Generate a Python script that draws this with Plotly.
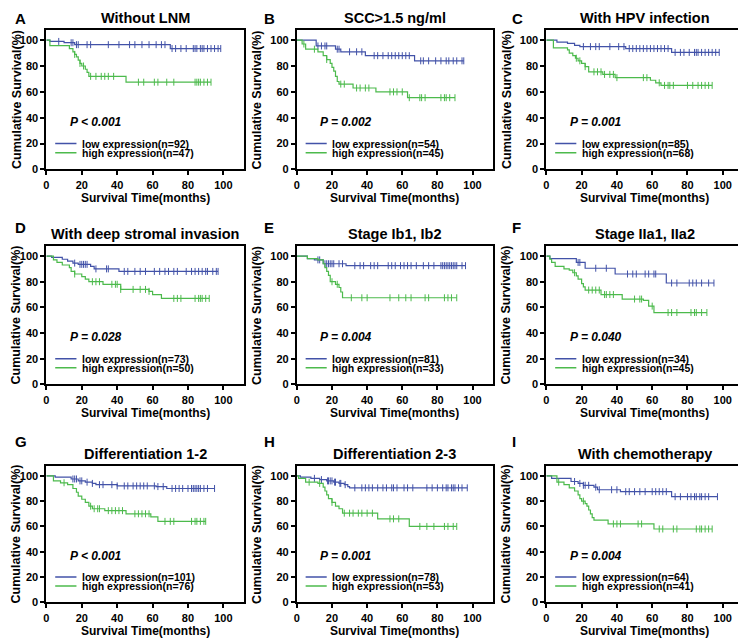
import numpy as np
import plotly.graph_objs as go

# panel labels and annotations
letters = ['A', 'B', 'C', 'D', 'E', 'F', 'G', 'H', 'I']
titles = ['Without LNM', 'SCC>1.5 ng/ml', 'With HPV infection',
          'With deep stromal invasion', 'Stage Ib1, Ib2', 'Stage IIa1, IIa2',
          'Differentiation 1-2', 'Differentiation 2-3', 'With chemotherapy']
p_texts = ['P < 0.001', 'P = 0.002', 'P = 0.001', 'P = 0.028', 'P = 0.004',
           'P = 0.040', 'P < 0.001', 'P = 0.001', 'P = 0.004']
n_low = [92, 54, 85, 73, 81, 34, 101, 78, 64]
n_high = [47, 45, 68, 50, 33, 45, 76, 53, 41]

x_ticks = [0, 20, 40, 60, 80, 100]
y_ticks = [0, 20, 40, 60, 80, 100]

# event times (months), survival after each event (%), censored times
a_low_t = [2, 10, 16, 70]
a_low_s = [99, 98, 96.5, 93.5]
a_low_c = [7, 14, 15, 17, 18, 23, 25, 35, 41, 47, 50, 54, 58, 62, 65, 67, 71, 73, 76,
           79, 83, 84, 85, 87, 88, 89, 91, 93, 95, 97, 98.5]
a_high_t = [2, 13, 15, 16, 17, 18, 19, 20, 22, 23, 24, 45]
a_high_s = [95.7, 93.5, 91, 89, 87, 84.5, 82, 80, 77.5, 75, 72, 67.5]
a_high_c = [16, 19, 21, 25, 28, 31, 33, 35, 38, 52, 55, 61, 63, 68, 72, 84, 85, 86,
            87, 89, 91, 93]

b_low_t = [11, 22, 25, 39, 67]
b_low_s = [95.5, 93, 91, 88, 84]
b_low_c = [12, 14, 16, 17, 23, 24, 30, 34, 37, 44, 46, 49, 52, 54, 56, 58, 60, 62, 64,
           70.5, 72, 75, 79, 82, 85, 86.5, 89, 91, 94, 95]
b_high_t = [3, 5, 12, 15, 17, 19, 20, 21, 22, 23, 24, 32, 45, 63]
b_high_s = [97, 93, 91, 88, 85, 82, 79, 76, 72, 68, 66, 63, 60, 55.5]
b_high_c = [4, 10, 17, 25, 27, 34, 36, 39, 41, 53, 55, 57, 60, 64, 70, 71, 73, 82, 84,
            85, 87, 90]

c_low_t = [6, 12, 16, 19, 45, 71]
c_low_s = [98.5, 97.5, 96, 95, 93.5, 90.5]
c_low_c = [21, 25, 28, 30, 36, 41, 44, 47, 49, 51, 53, 55, 57, 59, 61, 63, 65, 67, 69,
           73, 76, 78, 81, 84, 85, 86, 88, 90, 92, 94, 96, 98]
c_high_t = [4, 12, 13, 15, 16.5, 18, 20, 22, 24, 32, 39, 59, 62, 65]
c_high_s = [94, 92.5, 90, 88, 86, 84, 82, 79.5, 75.5, 73.5, 71, 69, 67, 65]
c_high_c = [17, 19, 22, 27, 29, 31, 33, 36, 38, 40, 55, 57, 64, 67, 69, 70, 72, 80,
            83, 86, 88, 90, 92, 94]

d_low_t = [3, 9, 12, 15, 18, 25, 27, 41]
d_low_s = [99, 97.5, 96, 94.5, 93.5, 92, 90, 88]
d_low_c = [16, 19, 20, 21, 22, 23, 28, 34, 35, 44, 46, 50, 53, 56, 61, 64, 67, 69, 72,
           74, 79, 82, 84, 86, 88, 90, 91, 94, 96, 97]
d_high_t = [4, 6, 9, 13, 14, 16, 20, 22, 24, 32, 42, 58, 60, 65]
d_high_s = [97, 95, 93, 91, 88, 86, 84, 82, 80, 78, 74, 72.5, 70, 67]
d_high_c = [16, 26, 28, 30, 37, 39, 40, 42, 49, 53, 56, 58, 72, 74, 76, 84, 86, 87,
            88, 90, 92]

e_low_t = [6, 10, 15, 28]
e_low_s = [98, 97, 94, 92.5]
e_low_c = [12, 13, 16, 17, 18, 19, 20, 21, 24, 26, 33, 36, 38, 42, 44, 46, 52, 54, 56,
           59, 61, 63, 65, 68, 72, 75, 78, 82, 83, 84, 85, 86, 87, 88, 89, 90, 91, 94, 96]
e_high_t = [6, 12, 15, 16, 17, 18, 19, 22, 24, 25, 26]
e_high_s = [98, 97, 94, 91, 88, 85, 80, 78, 75.5, 72, 67.5]
e_high_c = [20, 23, 31, 37, 40, 53, 58, 62, 65, 73, 75, 84, 86, 88, 91]

f_low_t = [2, 17, 22, 39, 68]
f_low_s = [98, 95, 90.5, 86, 79]
f_low_c = [18, 19, 28, 34, 46, 49, 51, 56, 58, 61, 62, 71, 74, 81, 83, 85, 88, 92, 95]
f_high_t = [2, 3, 5, 10, 13, 15, 17, 18, 20, 21, 22, 31, 43, 55, 58, 61]
f_high_s = [97.5, 95, 92, 90, 89, 87, 84.5, 82, 78.5, 76, 73.5, 70, 66.5, 65.5, 61, 56]
f_high_c = [16, 24, 26, 28, 30, 33, 34, 36, 38, 50, 53, 54, 60, 69, 71, 74, 82, 84,
            85, 88, 91]

g_low_t = [5, 14, 18, 22, 26, 28, 40, 62, 68]
g_low_s = [99, 97.5, 96, 95, 94, 93, 92, 91.5, 90]
g_low_c = [15, 16, 17, 19, 20, 23, 26, 30, 32, 37, 40, 44, 46, 49, 51, 53, 55, 57, 61,
           63, 66, 71, 73, 75, 77, 80, 82, 83, 84, 85, 86, 87, 89, 91, 95]
g_high_t = [4, 8, 12, 15, 17, 18, 20, 22, 24, 26, 33, 45, 59, 63]
g_high_s = [96, 94.5, 93, 90, 87, 84, 81.5, 79, 76, 74, 72.5, 70, 67.5, 64]
g_high_c = [10, 25, 27, 29, 30, 35, 37, 39, 41, 43, 50, 52, 54, 56, 58, 67, 70, 72,
            82, 84, 85, 87, 89, 90]

h_low_t = [2, 8, 13, 17, 21, 24, 27, 29, 30]
h_low_s = [99, 98, 97, 96, 95, 94, 93, 91.5, 90.5]
h_low_c = [10, 14, 17.5, 18, 19, 20, 21.5, 22, 24.5, 25, 27.5, 33, 37, 39, 41, 43, 46,
           49, 51, 54, 55, 57, 61, 63, 66, 74, 77, 80, 83, 85, 86, 88, 89, 90, 92, 94, 97]
h_high_t = [1, 5, 12, 15, 16, 17, 18, 20, 22, 24, 26, 46, 64]
h_high_s = [98, 95, 94, 91, 88, 85, 82, 79, 76, 74, 70.5, 66, 60]
h_high_c = [7, 13, 20, 27, 30, 32, 35, 37, 40, 43, 53, 55, 58, 70, 74, 78, 84, 86, 89, 91]

i_low_t = [3, 14, 18, 21, 27, 29, 42, 71]
i_low_s = [98, 95.5, 94, 92.5, 91, 89, 87.5, 83.5]
i_low_c = [16, 19, 21, 22, 24, 28, 30, 37, 40, 45, 47, 50, 53, 56, 60, 62, 64, 66, 68,
           73, 76, 80, 82, 84, 85, 87, 88, 90, 92, 97]
i_high_t = [6, 10, 13, 16, 18, 19, 20, 22, 23, 24, 25, 26, 27, 35, 61]
i_high_s = [95, 93, 90.5, 88, 85, 82, 80, 78, 76, 73, 70, 67, 65, 62, 58]
i_high_c = [7, 21, 38, 40, 42, 52, 54, 64, 66, 72, 74, 85, 87, 88, 90, 92, 94]

low_groups = [(a_low_t, a_low_s, a_low_c), (b_low_t, b_low_s, b_low_c),
              (c_low_t, c_low_s, c_low_c), (d_low_t, d_low_s, d_low_c),
              (e_low_t, e_low_s, e_low_c), (f_low_t, f_low_s, f_low_c),
              (g_low_t, g_low_s, g_low_c), (h_low_t, h_low_s, h_low_c),
              (i_low_t, i_low_s, i_low_c)]
high_groups = [(a_high_t, a_high_s, a_high_c), (b_high_t, b_high_s, b_high_c),
               (c_high_t, c_high_s, c_high_c), (d_high_t, d_high_s, d_high_c),
               (e_high_t, e_high_s, e_high_c), (f_high_t, f_high_s, f_high_c),
               (g_high_t, g_high_s, g_high_c), (h_high_t, h_high_s, h_high_c),
               (i_high_t, i_high_s, i_high_c)]

BLUE = '#4252a8'
GREEN = '#4cba4c'
FONT = 'Arial, Liberation Sans, sans-serif'
W, H = 746, 643
OFF = 8  # page body margin

# plot box positions in page pixels
col_px = [(43.5, 241.7), (295, 491.7), (545.5, 743)]
row_px = [(30, 171), (248, 388), (470, 608)]
letter_px = [10, 260, 509]
letter_py = [8, 219, 435]
ytitle_shift = [-30, -40, -40]


def px_x(v):
    return (v - OFF) / W


def px_y(v):
    return 1 - (v - OFF) / H


def km_curve(times, surv, cens):
    end = max(list(cens) + list(times))
    xs = [0] + list(times) + [end]
    ys = [100] + list(surv) + [surv[-1]]
    idx = np.searchsorted(np.array(times), np.array(cens), side='right')
    cy = [100 if k == 0 else surv[k - 1] for k in idx]
    return xs, ys, list(cens), cy


fig = go.Figure()
annotations = []
shapes = []
layout_axes = {}

for i in range(9):
    r, c = i // 3, i % 3
    n = '' if i == 0 else str(i + 1)
    xref, yref = 'x' + n, 'y' + n

    for grp, color in ((low_groups[i], BLUE), (high_groups[i], GREEN)):
        xs, ys, cx, cy = km_curve(*grp)
        fig.add_trace(go.Scatter(x=xs, y=ys, mode='lines', line=dict(color=color, width=1.2, shape='hv'),
                                 xaxis=xref, yaxis=yref, showlegend=False, hoverinfo='skip'))
        fig.add_trace(go.Scatter(x=cx, y=cy, mode='markers',
                                 marker=dict(symbol='line-ns', size=5, line=dict(color=color, width=1)),
                                 xaxis=xref, yaxis=yref, showlegend=False, hoverinfo='skip'))

    x0, x1 = col_px[c]
    y0, y1 = row_px[r]
    axis_common = dict(showline=True, linewidth=2, linecolor='black', mirror=True,
                       ticks='outside', ticklen=4, tickwidth=1.5, tickcolor='black',
                       showgrid=False, zeroline=False,
                       tickfont=dict(family=FONT, size=11, color='black', weight='bold'))
    layout_axes['xaxis' + n] = dict(axis_common, domain=[px_x(x0), px_x(x1)], range=[0, 111.5],
                                    tickvals=x_ticks, anchor=yref)
    layout_axes['yaxis' + n] = dict(axis_common, domain=[px_y(y1), px_y(y0)], range=[0, 108],
                                    tickvals=y_ticks, anchor=xref)

    # panel letter (top edge of the page body for the first row)
    annotations.append(dict(text=letters[i], xref='paper', yref='paper', x=px_x(letter_px[c]),
                            y=min(1, px_y(letter_py[r])), xanchor='left', yanchor='top', showarrow=False,
                            font=dict(family=FONT, size=15, color='black', weight='bold')))
    # panel title
    annotations.append(dict(text=titles[i], xref=xref + ' domain', yref=yref + ' domain', x=0.5, y=1,
                            yshift=11.5, xanchor='center', yanchor='middle', showarrow=False,
                            font=dict(family=FONT, size=14.5, color='black', weight='bold')))
    # axis titles
    annotations.append(dict(text='Survival Time(months)', xref=xref + ' domain', yref=yref + ' domain',
                            x=0.5, y=0, yshift=-29, xanchor='center', yanchor='middle', showarrow=False,
                            font=dict(family=FONT, size=12, color='black', weight='bold')))
    annotations.append(dict(text='Cumulative Survival(%)', xref=xref + ' domain', yref=yref + ' domain',
                            x=0, y=0.5, xshift=ytitle_shift[c], textangle=-90, xanchor='center',
                            yanchor='middle', showarrow=False,
                            font=dict(family=FONT, size=12.5, color='black', weight='bold')))
    # p value
    annotations.append(dict(text='<i>' + p_texts[i] + '</i>', xref=xref, yref=yref, x=12, y=37,
                            xanchor='left', yanchor='middle', showarrow=False,
                            font=dict(family=FONT, size=12, color='black', weight='bold')))
    # legend
    for ly, color, label in ((20, BLUE, 'low expression(n=%d)' % n_low[i]),
                             (13, GREEN, 'high expression(n=%d)' % n_high[i])):
        shapes.append(dict(type='line', xref=xref, yref=yref, x0=5, x1=17, y0=ly, y1=ly,
                           line=dict(color=color, width=1.5)))
        annotations.append(dict(text=label, xref=xref, yref=yref, x=19, y=ly, xanchor='left',
                                yanchor='middle', showarrow=False,
                                font=dict(family=FONT, size=10.5, color='black', weight='bold')))

fig.update_layout(width=W, height=H, margin=dict(l=0, r=0, t=0, b=0),
                  plot_bgcolor='white', paper_bgcolor='white',
                  annotations=annotations, shapes=shapes, **layout_axes)

fig.write_html("out.html")
